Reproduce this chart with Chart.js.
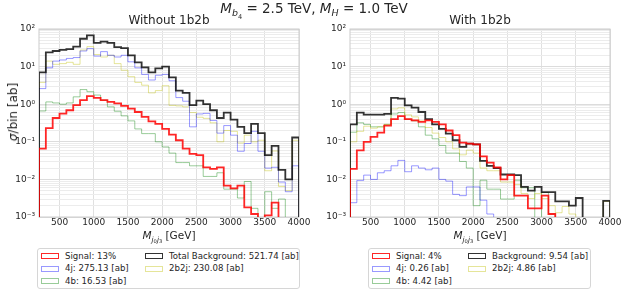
<!DOCTYPE html>
<html>
<head>
<meta charset="utf-8">
<script src="https://cdn.jsdelivr.net/npm/chart.js@4.4.1/dist/chart.umd.min.js"></script>
<style>
    body { margin: 0; width: 623px; height: 292px; background: #fff; position: relative; overflow: hidden;
           font-family: "DejaVu Sans", sans-serif; color: #262626; }
    canvas { position: absolute; top: 0; }
    .lbl { position: absolute; transform: translate(-50%, -50%); white-space: nowrap; line-height: 1; }
    .sub { font-size: 70%; position: relative; top: 0.35em; }
    .legend { position: absolute; top: 248px; height: 41px; border: 1px solid #d6d6d6; border-radius: 3px;
              background: #fff; box-sizing: border-box; font-size: 8.6px; }
    .item { position: absolute; white-space: nowrap; line-height: 1; }
    .swatch { position: absolute; width: 18px; height: 6px; box-sizing: border-box; }
</style>
</head>
<body>
<canvas id="leftChart" width="313" height="240" style="left:0"></canvas>
<canvas id="rightChart" width="313" height="240" style="left:310px"></canvas>

<div class="lbl" style="left:314px; top:9px; font-size:13.5px"><i>M</i><span class="sub"><i>b</i><span class="sub">4</span></span> = 2.5 TeV, <i>M</i><span class="sub"><i>H</i></span> = 1.0 TeV</div>
<div class="lbl" style="left:169px; top:20px; font-size:12px">Without 1b2b</div>
<div class="lbl" style="left:480px; top:20px; font-size:12px">With 1b2b</div>
<div class="lbl" style="left:169px; top:235px; font-size:10.5px"><i>M</i><span class="sub"><i>j</i><span class="sub">0</span><i>j</i><span class="sub">3</span></span> [GeV]</div>
<div class="lbl" style="left:480px; top:235px; font-size:10.5px"><i>M</i><span class="sub"><i>j</i><span class="sub">0</span><i>j</i><span class="sub">3</span></span> [GeV]</div>
<div class="lbl" style="left:13px; top:112px; font-size:12px; font-weight:normal; transform: translate(-50%, -50%) rotate(-90deg)"><i>σ</i>/bin [ab]</div>

<div id="leftLegend" class="legend" style="left:37px; width:263px"></div>
<div id="rightLegend" class="legend" style="left:368px; width:223px"></div>

<script>
// bin edges (GeV), 100 GeV bins
const binEdges = [200, 300, 400, 500, 600, 700, 800, 900, 1000, 1100, 1200, 1300, 1400, 1500, 1600, 1700, 1800, 1900, 2000,
    2100, 2200, 2300, 2400, 2500, 2600, 2700, 2800, 2900, 3000, 3100, 3200, 3300, 3400, 3500, 3600, 3700, 3800, 3900, 4000];

const xTicks = [500, 1000, 1500, 2000, 2500, 3000, 3500, 4000];
const yDecades = [1e-3, 1e-2, 1e-1, 1, 10, 100];
const yTickLabels = ['10⁻³', '10⁻²', '10⁻¹', '10⁰', '10¹', '10²'];

// Without 1b2b
const leftSignal = [0.066, 0.23, 0.43, 0.56, 0.69, 0.94, 1.28, 1.63, 1.47, 1.28, 1.15, 1.05, 0.9, 0.76, 0.62, 0.46, 0.35, 0.3, 0.22,
    0.155, 0.11, 0.066, 0.048, 0.044, 0.021, 0.019, 0.021, 0.0068, 0.0058, 0.0068, 0.0018, 0.0012, 0, 0.0011, 0.0024, 0, 0, 0];
const leftBkg = [7, 24, 26, 28, 29, 34, 55, 68, 43, 46, 43, 33, 31, 20, 13, 9.5, 7, 9, 10,
    5.2, 2.3, 2.0, 0.95, 1.25, 1.0, 0.69, 0.43, 0.6, 0.39, 0.25, 0.17, 0.30, 0.17, 0.044, 0.078, 0.018, 0.01, 0.13];
const left4j = [2.6, 9.3, 14, 15, 16.5, 17.4, 26, 30, 19, 25, 20, 18, 20, 13.4, 9.3, 6.2, 4.4, 5.9, 6.2,
    4.2, 1.5, 1.2, 0.25, 0.55, 0.57, 0.37, 0.17, 0.27, 0.15, 0.056, 0.09, 0.19, 0.056, 0.02, 0.021, 0.0085, 0.0047, 0.023];
const left2b2j = [3.8, 14, 11.5, 12, 13, 11.5, 27.6, 34, 21, 18, 20, 12, 8, 5.4, 3.8, 3.2, 2.0, 2.3, 3.1,
    0.93, 0.9, 0.85, 0.6, 0.45, 0.42, 0.32, 0.10, 0.2, 0.19, 0.093, 0.15, 0.10, 0.11, 0.017, 0.057, 0.0065, 0.005, 0.11];
const left4b = [0.66, 1.15, 1.08, 1.0, 1.08, 1.57, 2.45, 2.15, 1.75, 1.28, 0.85, 0.65, 0.49, 0.36, 0.22, 0.165, 0.165, 0.10, 0.073,
    0.05, 0.028, 0.028, 0.023, 0.023, 0.012, 0.012, 0.015, 0.0055, 0.0055, 0.0032, 0.0088, 0.0017, 0, 0.0047, 0.0017, 0.003, 0, 0];
const leftLabels = ['Signal: 13%', '4j: 275.13 [ab]', '4b: 16.53 [ab]', 'Total Background: 521.74 [ab]', '2b2j: 230.08 [ab]'];

// With 1b2b
const rightSignal = [0.019, 0.059, 0.10, 0.135, 0.175, 0.27, 0.40, 0.48, 0.40, 0.37, 0.34, 0.37, 0.34, 0.29, 0.2, 0.15, 0.095, 0.089, 0.085,
    0.041, 0.028, 0.021, 0.01, 0.013, 0.0037, 0.0037, 0.0017, 0.0017, 0.0037, 0.0012, 0, 0, 0, 0, 0, 0, 0, 0];
const rightBkg = [0.29, 0.6, 0.53, 0.53, 0.53, 0.55, 1.48, 1.41, 0.93, 0.81, 0.62, 0.40, 0.29, 0.22, 0.165, 0.11, 0.073, 0.089, 0.085,
    0.031, 0.023, 0.02, 0.0135, 0.0135, 0.013, 0.0063, 0.005, 0.0063, 0.0046, 0.0046, 0.0026, 0.0026, 0.002, 0.0032, 0, 0, 0, 0.0027];
const right4j = [0.0024, 0.0094, 0.013, 0.01, 0.015, 0.017, 0.023, 0.032, 0.016, 0.023, 0.02, 0.018, 0.02, 0.01, 0.009, 0.004, 0.0037, 0.0063, 0.0063,
    0.0028, 0.0012, 0, 0, 0, 0, 0, 0, 0, 0, 0, 0, 0, 0, 0, 0, 0, 0, 0];
const right2b2j = [0.10, 0.19, 0.26, 0.23, 0.25, 0.29, 0.75, 0.8, 0.52, 0.46, 0.36, 0.24, 0.17, 0.13, 0.10, 0.065, 0.045, 0.06, 0.05,
    0.02, 0.017, 0.017, 0.0085, 0.0085, 0.0073, 0.0042, 0.0031, 0.0042, 0.0031, 0.002, 0.0013, 0.0019, 0.0012, 0, 0, 0, 0, 0.0026];
const right4b = [0.18, 0.32, 0.29, 0.25, 0.25, 0.29, 0.55, 0.6, 0.40, 0.36, 0.25, 0.15, 0.12, 0.08, 0.05, 0.05, 0.03, 0.02, 0.002,
    0.0095, 0.0055, 0.0055, 0.003, 0.003, 0.0095, 0.006, 0.006, 0, 0.0045, 0.0012, 0, 0, 0, 0, 0, 0, 0, 0];
const rightLabels = ['Signal: 4%', '4j: 0.26 [ab]', '4b: 4.42 [ab]', 'Background: 9.54 [ab]', '2b2j: 4.86 [ab]'];

// line styles, same order as the labels
const lineColors = ['rgba(255,0,0,0.85)', 'rgba(0,0,255,0.4)', 'rgba(0,128,0,0.4)', 'rgba(0,0,0,0.8)', 'rgba(191,191,0,0.4)'];
const lineWidths = [1.8, 1, 1, 1.8, 1];
const drawOrder = [0, 2, 4, 1, 3];

const FLOOR = 1e-6; // empty bins fall below the axis, like matplotlib

function steps(values) {
    const last = binEdges.length - 1;
    const pts = [{x: binEdges[0], y: FLOOR}];
    values.forEach((v, i) => pts.push({x: binEdges[i], y: v > 0 ? v : FLOOR}));
    const end = values[values.length - 1];
    pts.push({x: binEdges[last], y: end > 0 ? end : FLOOR});
    pts.push({x: binEdges[last], y: FLOOR});
    return pts;
}

const framePlugin = {
    id: 'frame',
    beforeDatasetsDraw(chart) {
        const {ctx, chartArea: a} = chart;
        ctx.save();
        ctx.strokeStyle = '#cccccc';
        ctx.lineWidth = 1;
        ctx.strokeRect(a.left, a.top, a.right - a.left, a.bottom - a.top);
        ctx.restore();
    }
};

function makeChart(canvasId, series, labels, yWidth, padRight) {
    return new Chart(document.getElementById(canvasId), {
        type: 'line',
        data: {
            datasets: series.map((s, i) => ({
                label: labels[i],
                data: steps(s),
                stepped: true,
                borderColor: lineColors[i],
                borderWidth: lineWidths[i],
                pointRadius: 0,
                fill: false,
                order: drawOrder[i]
            }))
        },
        options: {
            responsive: false,
            devicePixelRatio: 1,
            animation: false,
            layout: {padding: {top: 29, right: padRight, left: 0, bottom: 0}},
            plugins: {legend: {display: false}, tooltip: {enabled: false}},
            scales: {
                x: {
                    type: 'linear',
                    min: 200,
                    max: 4000,
                    afterBuildTicks: (scale) => {
                        scale.ticks = xTicks.map(v => ({value: v}));
                    },
                    afterFit: (scale) => {
                        scale.height = 23;
                    },
                    grid: {color: '#e0e0e0', drawTicks: false},
                    border: {display: false},
                    ticks: {
                        padding: 0,
                        color: '#262626',
                        font: {family: 'DejaVu Sans', size: 9},
                        maxRotation: 0,
                        autoSkip: false,
                        callback: (value) => String(value)
                    }
                },
                y: {
                    type: 'logarithmic',
                    min: 1e-3,
                    max: 100,
                    afterBuildTicks: (scale) => {
                        const ticks = [];
                        yDecades.forEach((d, i) => {
                            ticks.push({value: d, major: true});
                            if (i < yDecades.length - 1) {
                                for (let m = 2; m <= 9; m++) {
                                    ticks.push({value: d * m, major: false});
                                }
                            }
                        });
                        scale.ticks = ticks;
                    },
                    afterFit: (scale) => {
                        scale.width = yWidth;
                    },
                    grid: {
                        color: (ctx) => (ctx.tick && ctx.tick.major) ? '#dcdcdc' : '#ececec',
                        drawTicks: false
                    },
                    border: {display: false},
                    ticks: {
                        padding: 4,
                        autoSkip: false,
                        color: '#262626',
                        font: {family: 'DejaVu Sans', size: 9},
                        callback: (value, index, ticks) => {
                            if (!ticks[index].major) {
                                return '';
                            }
                            return yTickLabels[yDecades.indexOf(ticks[index].value)];
                        }
                    }
                }
            }
        },
        plugins: [framePlugin]
    });
}

function buildLegend(boxId, chart, col2Left) {
    const box = document.getElementById(boxId);
    const rows = 3;
    chart.data.datasets.forEach((ds, i) => {
        const col = Math.floor(i / rows);
        const row = i % rows;
        const left = col === 0 ? 3 : col2Left;
        const top = 7 + row * 12.5;
        const sw = document.createElement('div');
        sw.className = 'swatch';
        sw.style.left = left + 'px';
        sw.style.top = (top - 3) + 'px';
        sw.style.border = (ds.borderWidth > 1 ? 1.6 : 1.2) + 'px solid ' + ds.borderColor;
        box.appendChild(sw);
        const txt = document.createElement('div');
        txt.className = 'item';
        txt.style.left = (left + 24) + 'px';
        txt.style.top = (top - 4.5) + 'px';
        txt.textContent = ds.label;
        box.appendChild(txt);
    });
}

const leftChart = makeChart('leftChart', [leftSignal, left4j, left4b, leftBkg, left2b2j], leftLabels, 39, 14);
const rightChart = makeChart('rightChart', [rightSignal, right4j, right4b, rightBkg, right2b2j], rightLabels, 40, 13);

buildLegend('leftLegend', leftChart, 107);
buildLegend('rightLegend', rightChart, 99);
</script>
</body>
</html>
